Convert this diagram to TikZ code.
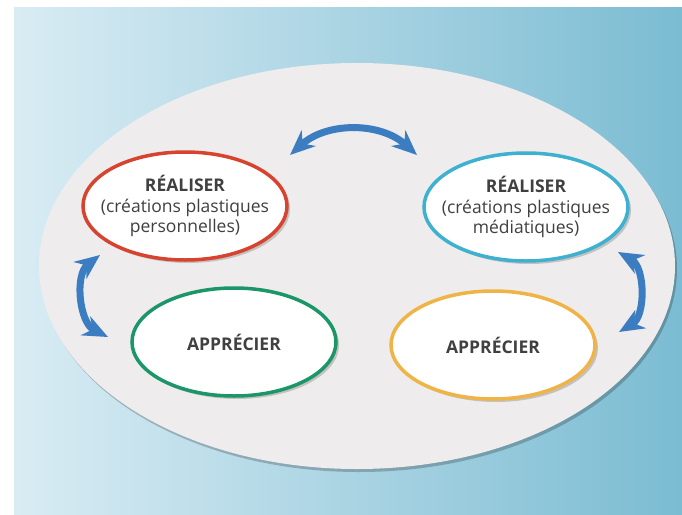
\documentclass[tikz,border=0pt]{standalone}
\usepackage{fontspec}
\setmainfont{Open Sans}
\usetikzlibrary{shapes.geometric,arrows.meta,shadows,positioning}

\definecolor{skyleft}{HTML}{D9ECF4}
\definecolor{skyright}{HTML}{7BBCD2}
\definecolor{platefill}{HTML}{EEECEC}
\definecolor{persored}{HTML}{D8432F}
\definecolor{mediacyan}{HTML}{3DB1CF}
\definecolor{apprgreen}{HTML}{1B9668}
\definecolor{approrange}{HTML}{EFB445}
\definecolor{swapblue}{HTML}{3C7DC2}
\definecolor{textgray}{HTML}{404040}

\begin{document}
\begin{tikzpicture}[x=1pt, y=-1pt, node distance=135pt]
    % Define styles
    \tikzstyle{plate} = [ellipse, fill=platefill, minimum width=636pt, minimum height=406pt, inner sep=0pt, drop shadow={shadow xshift=2pt, shadow yshift=-3pt, fill=black, opacity=0.22}]
    \tikzstyle{stage} = [ellipse, line width=3.5pt, fill=white, minimum width=204pt, minimum height=108pt, inner xsep=-18pt, inner ysep=0pt, align=center, text=textgray, font=\fontsize{17.5}{20.5}\selectfont, drop shadow={shadow xshift=3pt, shadow yshift=-3pt, fill=black, opacity=0.18}]
    \tikzstyle{swap} = [draw=swapblue, line width=7pt, {Stealth[length=25pt, width=21pt, inset=8pt]}-{Stealth[length=25pt, width=21pt, inset=8pt]}]

    \useasboundingbox (0,0) rectangle (682,514);
    \fill[left color=skyleft, right color=skyright] (14,7) rectangle (682,514);

    % Nodes
    \node[plate] (plate) at (357,266) {};
    \node[stage, draw=persored] (perso) at (185,206) {\textbf{RÉALISER}\\(créations plastiques\\personnelles)};
    \node[stage, draw=mediacyan, right of=perso, xshift=206pt, yshift=-1pt] (media) {\textbf{RÉALISER}\\(créations plastiques\\médiatiques)};
    \node[stage, draw=apprgreen, below of=perso, xshift=49pt, yshift=-1pt] (apprperso) {\textbf{APPRÉCIER}};
    \node[stage, draw=approrange, below of=media, xshift=-33pt, yshift=-3pt] (apprmedia) {\textbf{APPRÉCIER}};

    % Arrow ends
    \coordinate (topL) at (290,155);
    \coordinate (topR) at (417,155);
    \coordinate (leftT) at (100,255);
    \coordinate (leftB) at (108,337);
    \coordinate (rightT) at (618,252);
    \coordinate (rightB) at (619,332);

    % Connections
    \draw[swap] (topL) to[bend left=42] (topR);
    \draw[swap] (leftT) to[bend right=58] (leftB);
    \draw[swap] (rightT) to[bend left=60] (rightB);
\end{tikzpicture}
\end{document}
